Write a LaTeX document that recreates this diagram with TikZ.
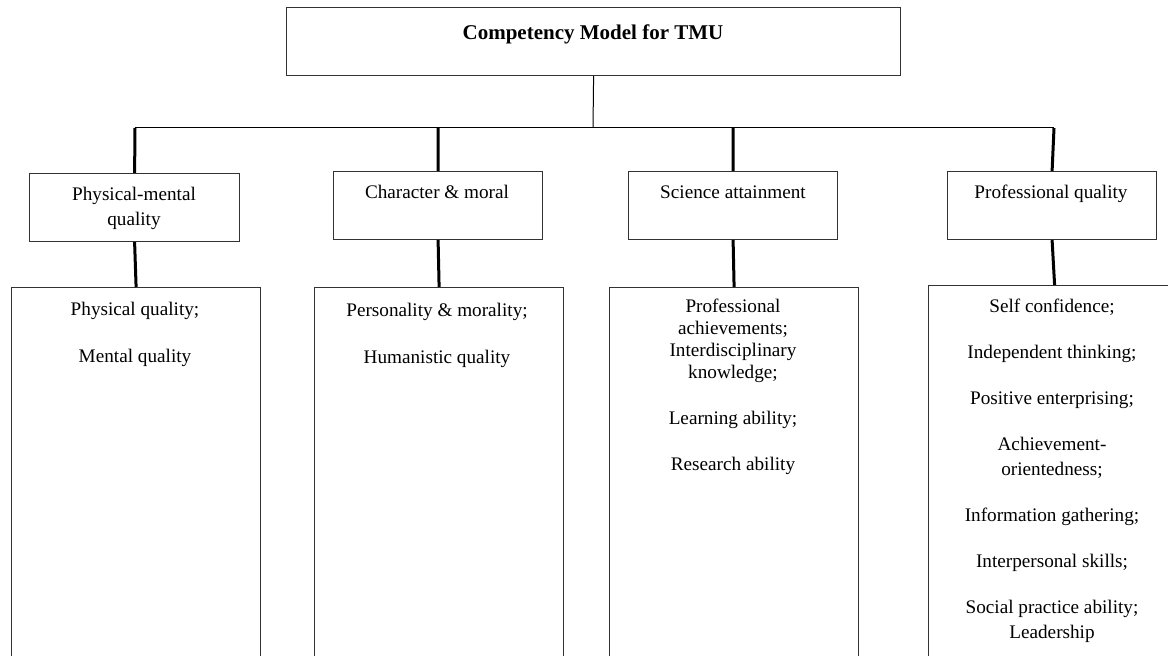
\documentclass[tikz,border=0pt]{standalone}
\usepackage{fontspec}
\setmainfont{Liberation Serif}
\begin{document}
\begin{tikzpicture}[x=0.5pt,y=-0.5pt,
  box/.style={draw=black!80, line width=0.6pt, inner sep=0pt, anchor=north west},
  txt/.style={anchor=north, inner sep=0pt, align=center, font=\fontsize{9.6}{12.5}\selectfont},
  thin/.style={draw=black, line width=0.5pt},
  bar/.style={draw=black, line width=1.5pt}]
\useasboundingbox[fill=white] (0,0) rectangle (1168,656);
\clip (0,0) rectangle (1168,656);
% top
\node[box, minimum width=307pt, minimum height=34pt] (top) at (286,7) {};
\node[txt, font=\fontsize{10.5}{12.6}\selectfont\bfseries] (toptxt) at (593,21) {\strut Competency Model for TMU};
% level 2
\node[box, minimum width=105pt, minimum height=34pt] (b1) at (29,173) {};
\node[box, minimum width=104.5pt, minimum height=34pt] (b2) at (333,171) {};
\node[box, minimum width=104.5pt, minimum height=34pt] (b3) at (628,171) {};
\node[box, minimum width=104.5pt, minimum height=34pt] (b4) at (947,171) {};
\node[txt] (t1) at (134,182.5) {\strut Physical-mental\\quality};
\node[txt] (t2) at (437,180.5) {\strut Character \& moral};
\node[txt] (t3) at (733,180.5) {\strut Science attainment};
\node[txt] (t4) at (1051,180.5) {\strut Professional quality};
% level 3
\node[box, minimum width=124.5pt, minimum height=220pt] (L1) at (11,287) {};
\node[box, minimum width=124.5pt, minimum height=220pt] (L2) at (314,287) {};
\node[box, minimum width=124.5pt, minimum height=220pt] (L3) at (609,287) {};
\node[box, minimum width=126pt, minimum height=220pt] (L4) at (928,285) {};
\node[txt] (u1) at (135,297.5) {\strut Physical quality;\\[11pt]Mental quality};
\node[txt] (u2) at (437,298.5) {\strut Personality \& morality;\\[11pt]Humanistic quality};
\node[txt] (u3) at (733,294.5) {\strut Professional\\[-1.5pt]achievements;\\[-1.5pt]Interdisciplinary\\[-1.5pt]knowledge;\\[10.5pt]Learning ability;\\[10.5pt]Research ability};
\node[txt] (u4) at (1052,294.5) {\strut Self confidence;\\[10.5pt]Independent thinking;\\[10.5pt]Positive enterprising;\\[10.5pt]Achievement-\\orientedness;\\[10.5pt]Information gathering;\\[10.5pt]Interpersonal skills;\\[10.5pt]Social practice ability;\\Leadership};
% connectors
\coordinate (hub) at (593,128);
\coordinate (h1) at (135,128);
\coordinate (h2) at (438,128);
\coordinate (h3) at (733,128);
\coordinate (h4) at (1054,128);
\draw[thin] (top.south) -- (hub);
\draw[thin] (h1) -- (h4);
\draw[bar] (h1) -- (b1.north);
\draw[bar] (h2) -- (b2.north);
\draw[bar] (h3) -- (b3.north);
\draw[bar] (h4) -- (b4.north);
\draw[bar] (b1.south) -- (L1.north);
\draw[bar] (b2.south) -- (L2.north);
\draw[bar] (b3.south) -- (L3.north);
\draw[bar] (b4.south) -- (L4.north);
\end{tikzpicture}
\end{document}
